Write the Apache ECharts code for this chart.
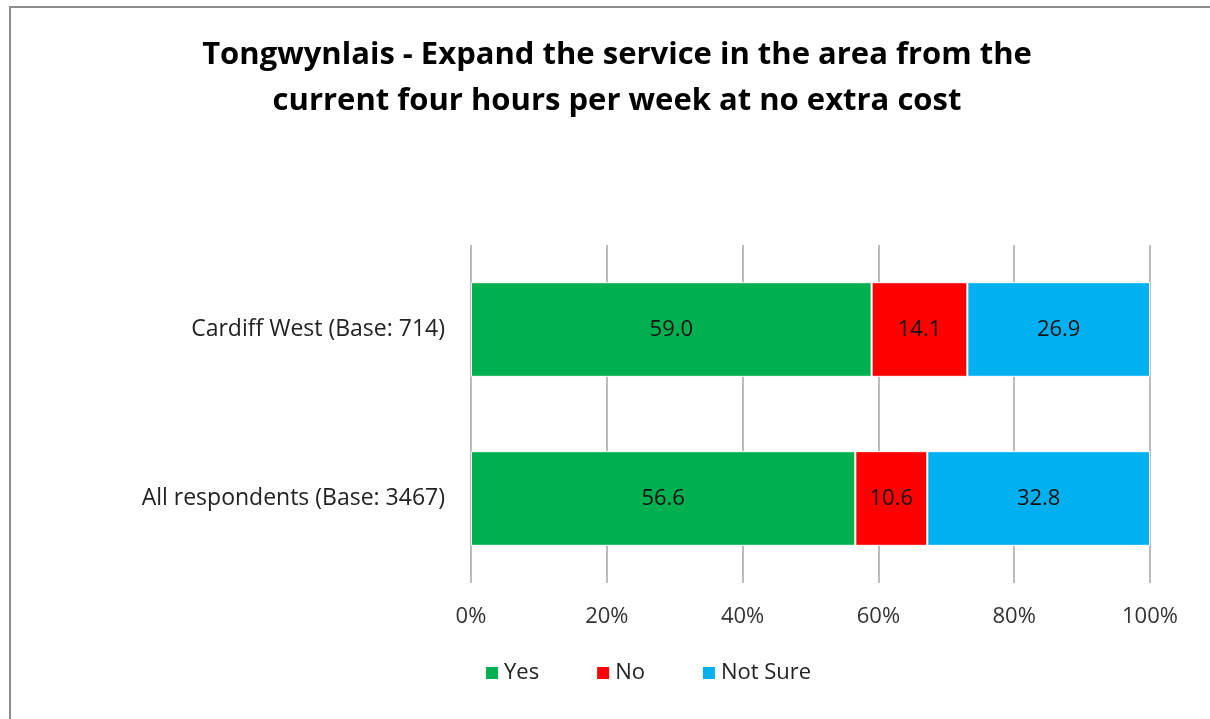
<!DOCTYPE html>
<html>
<head>
<meta charset="utf-8">
<script src="https://cdn.jsdelivr.net/npm/echarts@6/dist/echarts.min.js"></script>
<style>
  html, body { margin: 0; padding: 0; background: #fff; }
  #myChart { width: 1210px; height: 719px; }
</style>
</head>
<body>
<div id="myChart"></div>
<script>
  // data
  var categories = ['All respondents (Base: 3467)', 'Cardiff West (Base: 714)'];
  var yesData = [56.6, 59.0];
  var noData = [10.6, 14.1];
  var notSureData = [32.8, 26.9];
  var tickLabels = ['0%', '20%', '40%', '60%', '80%', '100%'];

  var font = '"Open Sans", sans-serif';

  function barLabel () {
    return {
      show: true,
      position: 'inside',
      color: '#111',
      fontSize: 22,
      fontFamily: font,
      formatter: function (p) { return p.value.toFixed(1) }
    }
  }

  var myChart = echarts.init(document.getElementById('myChart'), null, { renderer: 'canvas' });
  myChart.setOption({
    animation: false,
    title: {
      text: 'Tongwynlais - Expand the service in the area from the\ncurrent four hours per week at no extra cost',
      left: 612,
      textAlign: 'center',
      top: 27,
      textStyle: {
        fontFamily: font,
        fontWeight: 'bold',
        fontSize: 31,
        lineHeight: 46,
        color: '#000'
      }
    },
    graphic: [{
      type: 'rect',
      shape: { x: 10, y: 7, width: 1220, height: 730 },
      style: { fill: 'none', stroke: '#8c8c8c', lineWidth: 2 },
      silent: true
    }],
    legend: {
      data: ['Yes', 'No', 'Not Sure'],
      bottom: 30,
      left: 479,
      itemWidth: 14,
      itemHeight: 14,
      itemGap: 56,
      icon: 'rect',
      textStyle: { fontFamily: font, fontSize: 22, color: '#222' }
    },
    grid: {
      left: 471,
      right: 60,
      top: 245,
      bottom: 136,
      containLabel: false
    },
    xAxis: {
      type: 'value',
      min: 0,
      max: 100,
      interval: 20,
      axisLine: { show: false },
      axisTick: { show: false },
      splitLine: { show: true, lineStyle: { color: '#a6a6a6', width: 1.5 } },
      axisLabel: {
        margin: 23,
        fontFamily: font,
        fontSize: 22,
        color: '#333',
        formatter: function (v) { return tickLabels[Math.round(v / 20)] }
      }
    },
    yAxis: {
      type: 'category',
      data: categories,
      axisLine: { show: false },
      axisTick: { show: false },
      axisLabel: {
        margin: 26,
        fontFamily: font,
        fontSize: 23,
        color: '#222'
      }
    },
    series: [
      {
        name: 'Yes', type: 'bar', stack: 'total', data: yesData,
        barWidth: '56%',
        itemStyle: { color: '#00B050', borderColor: '#fff', borderWidth: 1 },
        label: barLabel()
      },
      {
        name: 'No', type: 'bar', stack: 'total', data: noData,
        itemStyle: { color: '#FF0000', borderColor: '#fff', borderWidth: 1 },
        label: barLabel()
      },
      {
        name: 'Not Sure', type: 'bar', stack: 'total', data: notSureData,
        itemStyle: { color: '#00B0F0', borderColor: '#fff', borderWidth: 1 },
        label: barLabel()
      }
    ]
  });
</script>
</body>
</html>
